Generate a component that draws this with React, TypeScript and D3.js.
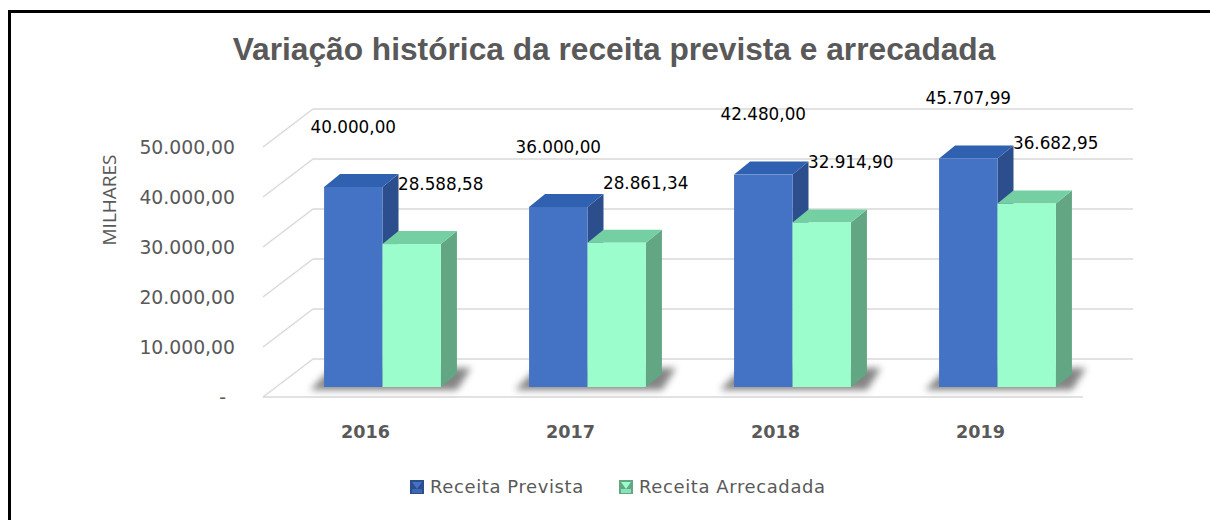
import React from "react";
import * as d3 from "d3";

// values in thousands (MILHARES)
const years = ["2016", "2017", "2018", "2019"];
const series = ["Receita Prevista", "Receita Arrecadada"];
const prevista = [40000.0, 36000.0, 42480.0, 45707.99];
const arrecadada = [28588.58, 28861.34, 32914.9, 36682.95];
const ticks = [0, 10000, 20000, 30000, 40000, 50000];

const W = 1210;
const H = 520;

const pt = d3.formatLocale({ decimal: ",", thousands: ".", grouping: [3], currency: ["R$", ""] });
const fmt = pt.format(",.2f");
const tickFmt = (v: number) => (v === 0 ? "-" : fmt(v));

// oblique 3d: front plane, floor depth, bars inside
const floorX0 = 263;
const floorX1 = 1083;
const floorY = 397;
const depth = { dx: 50, dy: -38 };
const barOff = { dx: 17, dy: -10 };
const barDepth = { dx: 16, dy: -13 };

const colors = [
  { front: "#4472C4", side: "#2C4E8C", top: "#3060B0" },
  { front: "#9BFDCB", side: "#62A683", top: "#74CFA3" },
];

const x = d3.scaleBand<string>().domain(years).range([floorX0, floorX1]).paddingInner(0.43).paddingOuter(0.215);
const xs = d3.scaleBand<string>().domain(series).range([0, x.bandwidth()]);
const lift = d3.scaleLinear().domain([0, 50000]).range([0, 250]);

const sans = "'DejaVu Sans', sans-serif";

function Bar({ x0, w, v, c }: { x0: number; w: number; v: number; c: typeof colors[0] }) {
  const bx = x0 + barOff.dx;
  const by = floorY + barOff.dy;
  const top = by - lift(v);
  const { dx, dy } = barDepth;
  const side = `M${bx + w},${by} L${bx + w + dx},${by + dy} L${bx + w + dx},${top + dy} L${bx + w},${top} Z`;
  const lid = `M${bx},${top} L${bx + dx},${top + dy} L${bx + w + dx},${top + dy} L${bx + w},${top} Z`;
  return (
    <g>
      <path d={side} fill={c.side} />
      <path d={lid} fill={c.top} />
      <rect x={bx} y={top} width={w} height={by - top} fill={c.front} />
    </g>
  );
}

export default function App() {
  const vals = [prevista, arrecadada];
  return (
    <div style={{ position: "absolute", left: 0, top: 0 }}>
      <svg width={W} height={H} style={{ display: "block", background: "#fff" }}>
        <defs>
          <filter id="shadow" x="-30%" y="-50%" width="160%" height="200%">
            <feGaussianBlur stdDeviation="3.5" />
          </filter>
        </defs>
        <rect x={9.5} y={11.5} width={W + 20} height={H + 20} fill="none" stroke="#000" strokeWidth={3} />

        <text x={614} y={60} textAnchor="middle" fontFamily="'Liberation Sans', Arial, sans-serif" fontWeight="bold"
          fontSize={31.7} fill="#595959">
          Variação histórica da receita prevista e arrecadada
        </text>

        {/* walls: gridlines on back, diagonals on left */}
        {ticks.map((t) => {
          const yf = floorY - lift(t);
          const yb = yf + depth.dy;
          return (
            <g key={t} stroke="#D9D9D9" strokeWidth={1.5} fill="none">
              <line x1={floorX0} y1={yf} x2={floorX0 + depth.dx} y2={yb} />
              <line x1={floorX0 + depth.dx} y1={yb} x2={floorX1 + depth.dx} y2={yb} />
            </g>
          );
        })}
        <line x1={floorX0} y1={floorY} x2={floorX1} y2={floorY} stroke="#D9D9D9" strokeWidth={1.5} />

        {/* y ticks */}
        {ticks.map((t) => (
          <text key={t} x={t === 0 ? 226 : 235} y={floorY - lift(t)} dy="0.35em" textAnchor="end"
            fontFamily={sans} fontSize={18.8} fill="#595959">
            {tickFmt(t)}
          </text>
        ))}
        <text transform="translate(109,200) rotate(-90)" textAnchor="middle" dy="0.35em"
          fontFamily="'Open Sans', sans-serif" fontSize={19} fill="#595959">
          MILHARES
        </text>

        {/* shadows */}
        {years.map((yr) => {
          const x0 = (x(yr) as number) + barOff.dx - 14;
          const x1 = (x(yr) as number) + barOff.dx + x.bandwidth() + barDepth.dx + 14;
          const y0 = floorY + barOff.dy + 3;
          return (
            <path key={yr} filter="url(#shadow)" fill="#666" opacity={0.8}
              d={`M${x0},${y0} L${x0 + 22},${y0 - 22} L${x1},${y0 - 22} L${x1 - 14},${y0} Z`} />
          );
        })}

        {/* bars */}
        {years.map((yr, i) => (
          <g key={yr}>
            {series.map((s, j) => (
              <Bar key={s} x0={(x(yr) as number) + (xs(s) as number)} w={xs.bandwidth()} v={vals[j][i]} c={colors[j]} />
            ))}
          </g>
        ))}

        {/* data labels */}
        {years.map((yr, i) =>
          series.map((s, j) => {
            const cx = (x(yr) as number) + (xs(s) as number) + barOff.dx + xs.bandwidth() / 2 + (j === 1 ? 29 : 0);
            const cy = floorY + barOff.dy - lift(vals[j][i]) - 60;
            return (
              <text key={yr + s} x={cx} y={cy} dy="0.35em" textAnchor="middle"
                fontFamily={sans} fontSize={16.8} fill="#000">
                {fmt(vals[j][i])}
              </text>
            );
          })
        )}

        {/* category labels */}
        {years.map((yr) => (
          <text key={yr} x={(x(yr) as number) + x.bandwidth() / 2} y={432} dy="0.35em" textAnchor="middle"
            fontFamily={sans} fontWeight="bold" fontSize={17.6} fill="#595959">
            {yr}
          </text>
        ))}

        {/* legend */}
        {series.map((s, j) => {
          const lx = j === 0 ? 410 : 619;
          return (
            <g key={s} transform={`translate(${lx},480)`}>
              <rect width={14} height={14} fill={colors[j].side} />
              <path d="M2,2 L12,2 L7,9 Z" fill={colors[j].front} />
              <rect x={2} y={9} width={10} height={4} fill={colors[j].front} opacity={0.7} />
              <text x={20} y={7} dy="0.35em" fontFamily={sans} fontSize={18} letterSpacing={0.6} fill="#595959">
                {s}
              </text>
            </g>
          );
        })}
      </svg>
    </div>
  );
}
